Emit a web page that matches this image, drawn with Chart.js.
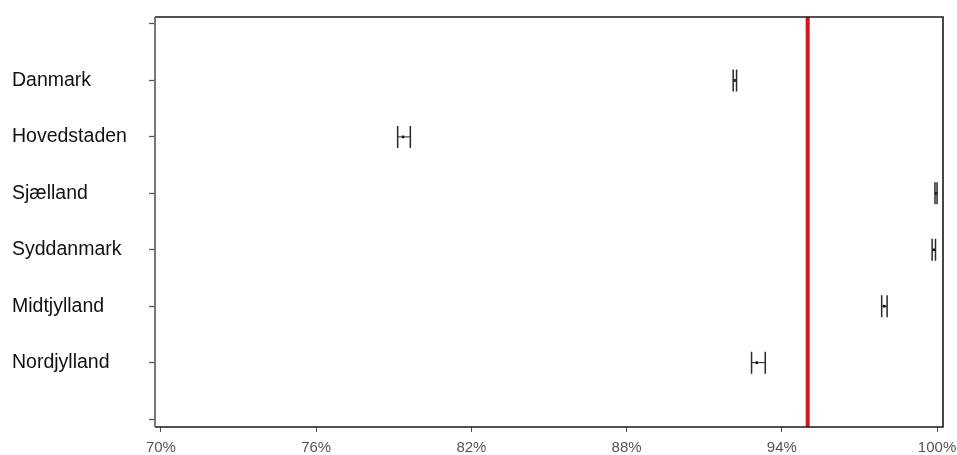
<!DOCTYPE html>
<html>
<head>
<meta charset="utf-8">
<script src="https://cdn.jsdelivr.net/npm/chart.js@4.4.1/dist/chart.umd.min.js"></script>
<style>
  html, body { margin: 0; padding: 0; background: #ffffff; }
  #wrap { width: 957px; height: 455px; position: relative; }
</style>
</head>
<body>
<div id="wrap"><canvas id="c" width="957" height="455"></canvas></div>
<script>
// Regions and their estimated share (%) with confidence limits
const regions = ['Danmark', 'Hovedstaden', 'Sjælland', 'Syddanmark', 'Midtjylland', 'Nordjylland'];
const estimate = [92.18, 79.36, 99.96, 99.87, 97.96, 93.03];
const lowerCI  = [92.12, 79.15, 99.92, 99.81, 97.86, 92.83];
const upperCI  = [92.25, 79.64, 100.00, 99.94, 98.07, 93.36];
const target = 95;
const xTicks = [70, 76, 82, 88, 94, 100];

// Category slots: regions sit at 1..6, with empty slots at 0 and 7
const slots = [0, 1, 2, 3, 4, 5, 6, 7];

const points = regions.map((r, i) => ({ x: estimate[i], y: i + 1 }));

const errorBars = {
  id: 'errorBars',
  afterDatasetsDraw(chart) {
    const { ctx, scales: { x, y } } = chart;
    const half = 11;
    ctx.save();
    regions.forEach((r, i) => {
      const py = y.getPixelForValue(i + 1);
      const xl = x.getPixelForValue(lowerCI[i]);
      const xh = x.getPixelForValue(upperCI[i]);
      ctx.strokeStyle = '#2a2a2a';
      ctx.lineWidth = 1.5;
      ctx.beginPath();
      ctx.moveTo(xl, py - half); ctx.lineTo(xl, py + half);
      ctx.moveTo(xh, py - half); ctx.lineTo(xh, py + half);
      ctx.stroke();
      ctx.strokeStyle = '#222222';
      ctx.lineWidth = 1;
      ctx.beginPath();
      ctx.moveTo(xl, py); ctx.lineTo(xh, py);
      ctx.stroke();
    });
    ctx.restore();
  }
};

const frame = {
  id: 'frame',
  afterDraw(chart) {
    const { ctx, chartArea: a, scales: { x } } = chart;
    ctx.save();
    // target line
    const tx = x.getPixelForValue(target);
    ctx.strokeStyle = '#d01818';
    ctx.lineWidth = 4;
    ctx.beginPath();
    ctx.moveTo(tx, a.top); ctx.lineTo(tx, a.bottom);
    ctx.stroke();
    // plot box
    ctx.lineWidth = 1.6;
    ctx.strokeStyle = '#1a1a1a';
    ctx.beginPath();
    ctx.moveTo(a.left, a.top); ctx.lineTo(a.right, a.top);
    ctx.lineTo(a.right, a.bottom); ctx.lineTo(a.left, a.bottom);
    ctx.stroke();
    ctx.strokeStyle = '#777777';
    ctx.lineWidth = 2;
    ctx.beginPath();
    ctx.moveTo(a.left, a.top); ctx.lineTo(a.left, a.bottom);
    ctx.stroke();
    ctx.restore();
  }
};

new Chart(document.getElementById('c'), {
  type: 'scatter',
  data: {
    datasets: [{
      data: points,
      pointStyle: 'rect',
      pointRadius: 1.8,
      pointHoverRadius: 1.8,
      backgroundColor: '#000000',
      borderColor: '#000000',
      borderWidth: 0
    }]
  },
  options: {
    responsive: false,
    animation: false,
    events: [],
    layout: { padding: { left: 12, right: 14, top: 17, bottom: 0 } },
    plugins: { legend: { display: false }, tooltip: { enabled: false } },
    scales: {
      x: {
        type: 'linear',
        min: 69.77,
        max: 100.23,
        afterBuildTicks: s => { s.ticks = xTicks.map(v => ({ value: v })); },
        afterFit: s => { s.height = 28; s.paddingLeft = 0; s.paddingRight = 0; },
        border: { display: false },
        grid: { drawOnChartArea: false, tickLength: 5, tickColor: '#555555', tickWidth: 1 },
        ticks: {
          callback: v => v + '%',
          color: '#555555',
          font: { family: 'Liberation Sans', size: 15 },
          padding: 7,
          maxRotation: 0
        }
      },
      y: {
        type: 'linear',
        reverse: true,
        min: -0.124,
        max: 7.14,
        afterBuildTicks: s => { s.ticks = slots.map(v => ({ value: v })); },
        afterFit: s => { s.width = 143; s.paddingTop = 0; s.paddingBottom = 0; },
        border: { display: false },
        grid: { drawOnChartArea: false, tickLength: 6, tickColor: '#555555', tickWidth: 1.3 },
        ticks: {
          callback: v => regions[v - 1] || '',
          crossAlign: 'far',
          color: '#111111',
          font: { family: 'Liberation Sans', size: 19.5 },
          padding: 0
        }
      }
    }
  },
  plugins: [errorBars, frame]
});
</script>
</body>
</html>
